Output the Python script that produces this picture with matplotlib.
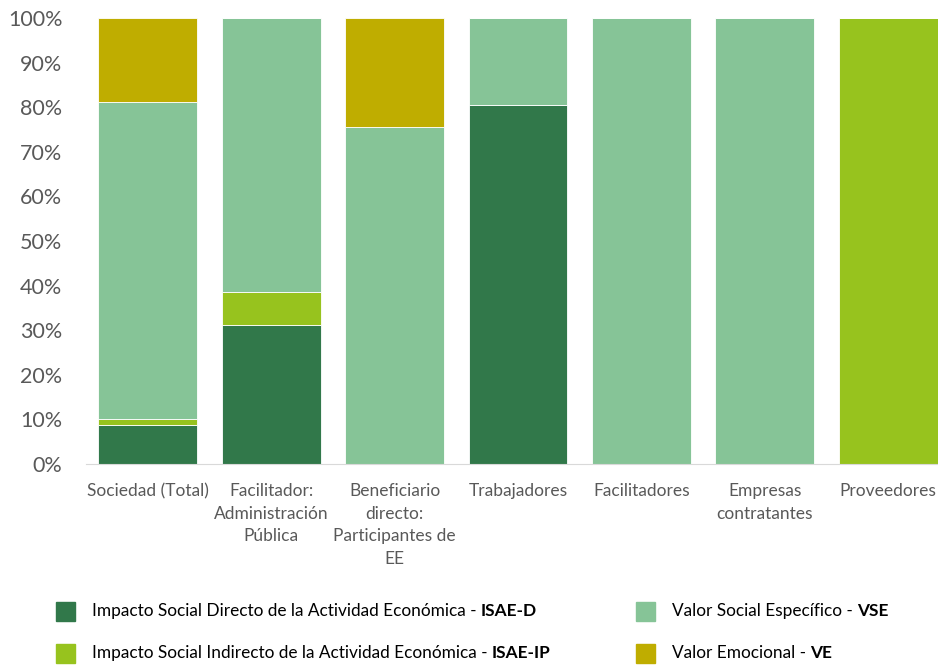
import matplotlib
matplotlib.use("Agg")
from matplotlib import pyplot as plt
from matplotlib.patches import Rectangle
import numpy as np

plt.rcParams['font.family'] = ['Lato', 'DejaVu Sans']

# Data (shares in %)
categories = ['Sociedad (Total)', 'Facilitador:\nAdministración\nPública',
              'Beneficiario\ndirecto:\nParticipantes de\nEE', 'Trabajadores',
              'Facilitadores', 'Empresas\ncontratantes', 'Proveedores']
isae_d = [8.8, 31.2, 0, 80.5, 0, 0, 0]
isae_ip = [1.4, 7.4, 0, 0, 0, 0, 100]
vse = [71.0, 61.4, 75.6, 19.5, 100, 100, 0]
ve = [18.8, 0, 24.4, 0, 0, 0, 0]

series = [
    (isae_d, '#31784A', 'Impacto Social Directo de la Actividad Económica - ', 'ISAE-D'),
    (isae_ip, '#97C31E', 'Impacto Social Indirecto de la Actividad Económica - ', 'ISAE-IP'),
    (vse, '#86C497', 'Valor Social Específico - ', 'VSE'),
    (ve, '#BFAD00', 'Valor Emocional - ', 'VE'),
]

W, H = 938, 665
fig = plt.figure(figsize=(W / 100, H / 100), dpi=100)
ax = fig.add_axes([86 / W, 1 - 464 / H, (W - 86) / W, (464 - 18) / H])

x = np.arange(len(categories))
bottom = np.zeros(len(categories))
for vals, color, _, _ in series:
    vals = np.array(vals)
    ax.bar(x, vals, 0.8, bottom=bottom, color=color, edgecolor='white', linewidth=0.6)
    bottom += vals

ax.set_ylim(0, 100)
ax.set_xlim(-0.5, 6.5 - 12 / 123.5)
ax.set_yticks(range(0, 101, 10))
ax.set_yticklabels([f'{v}%' for v in range(0, 101, 10)], fontsize=15.5, color='#595959')
ax.set_xticks(x)
ax.set_xticklabels(categories, fontsize=12.5, color='#595959', linespacing=1.5)
ax.tick_params(axis='both', length=0)
ax.tick_params(axis='x', pad=14)
ax.tick_params(axis='y', pad=17)
for s in ['top', 'right', 'left']:
    ax.spines[s].set_visible(False)
ax.spines['bottom'].set_color('#D9D9D9')

# Legend drawn by hand (bold suffixes)
legend_pos = [(56, 611, 0), (636, 611, 2), (56, 653, 1), (636, 653, 3)]
fig.canvas.draw()
renderer = fig.canvas.get_renderer()
for px, py, i in legend_pos:
    _, color, txt, bold = series[i]
    fig.patches.append(Rectangle((px / W, 1 - (py + 9.5) / H), 19 / W, 19 / H,
                                 transform=fig.transFigure, color=color))
    t = fig.text((px + 36) / W, 1 - py / H, txt, fontsize=12.4,
                 color='#000000', va='center')
    bb = t.get_window_extent(renderer)
    fig.text(bb.x1 / W, 1 - py / H, bold, fontsize=12.4,
             fontweight='bold', color='#000000', va='center')

fig.savefig('out.png', dpi=100)
